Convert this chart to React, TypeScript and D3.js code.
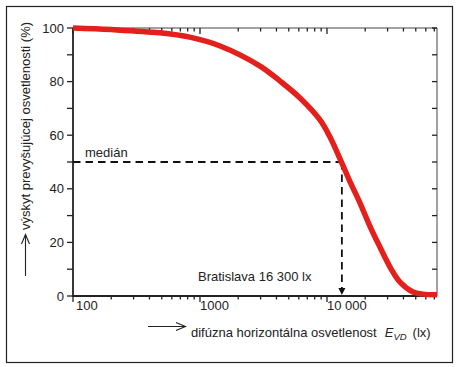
import React from "react";
import * as d3 from "d3";

const luxValues = [100, 200, 480, 830, 1440, 2970, 4270, 6130, 8810, 10560, 13100, 15200, 18200, 21800, 26100, 31300, 37600, 47600, 57000, 73500];
const occurrence = [100, 99.4, 98.2, 96.6, 93.3, 85.8, 80.2, 73.9, 65.7, 59.3, 49.6, 42.6, 34.7, 26.0, 18.3, 10.9, 5.2, 1.5, 0.7, 0.5];
const yTickValues = [0, 20, 40, 60, 80, 100];
const yMinorTicks = [0, 10, 20, 30, 40, 50, 60, 70, 80, 90, 100];
const xMajorTicks = [100, 1000, 10000];
const xMajorLabels = ["100", "1000", "10 000"];
const medianPct = 50;
const medianLux = 13100;
const medianLabel = "medián";
const cityLabel = "Bratislava 16 300 lx";
const yTitle = "výskyt prevyšujúcej osvetlenosti  (%)";
const xTitle = "difúzna horizontálna osvetlenost";

const FONT = "'Liberation Sans', Arial, Helvetica, sans-serif";

export default function App() {
  const W = 462, H = 367;
  const L = 73, R = 437, T = 28, B = 296;
  const x = d3.scaleLog().domain([100, 73500]).range([L, R]);
  const y = d3.scaleLinear().domain([0, 100]).range([B, T]);

  const minorX: number[] = [];
  for (let d = 100; d <= 10000; d *= 10) {
    for (let k = 1; k <= 9; k++) {
      const v = d * k;
      if (v <= 73500) minorX.push(v);
    }
  }

  const line = d3
    .line<number>()
    .x((_, i) => x(luxValues[i]))
    .y((d) => y(d))
    .curve(d3.curveCatmullRom.alpha(0.5));

  const mx = x(medianLux);
  const my = y(medianPct);

  return (
    <svg width={W} height={H} style={{ display: "block", position: "absolute", left: 0, top: 0 }} fontFamily={FONT}>
      <rect x={0} y={0} width={W} height={H} fill="#fff" />
      <rect x={6.5} y={6.5} width={446} height={356} fill="none" stroke="#222" strokeWidth={1.2} />

      {/* top and right frame */}
      <line x1={L} x2={R} y1={T} y2={T} stroke="#444" strokeWidth={1} />
      <line x1={R} x2={R} y1={T} y2={B} stroke="#444" strokeWidth={1} />

      {/* x ticks */}
      {minorX.map((v, i) => {
        const major = xMajorTicks.includes(v);
        const px = x(v);
        return (
          <g key={"xt" + i}>
            <line x1={px} x2={px} y1={B} y2={B + (major ? 6 : 3.5)} stroke="#222" strokeWidth={1.3} />
            <line x1={px} x2={px} y1={T} y2={T + (major ? 6 : 3.5)} stroke="#222" strokeWidth={1.3} />
          </g>
        );
      })}
      {/* y ticks */}
      {yMinorTicks.map((v) => (
        <g key={"yt" + v}>
          <line x1={L - 6} x2={L} y1={y(v)} y2={y(v)} stroke="#222" strokeWidth={1.3} />
          <line x1={R - 5} x2={R} y1={y(v)} y2={y(v)} stroke="#222" strokeWidth={1.3} />
        </g>
      ))}

      {/* axes */}
      <line x1={L} x2={L} y1={T} y2={B + 1} stroke="#222" strokeWidth={1.8} />
      <line x1={L - 1} x2={R} y1={B} y2={B} stroke="#222" strokeWidth={1.8} />

      {/* y tick labels */}
      {yTickValues.map((v) => (
        <text key={"yl" + v} x={64} y={y(v) + 4.5} textAnchor="end" fontSize={13} fill="#222">
          {v}
        </text>
      ))}
      {/* x tick labels */}
      {xMajorTicks.map((v, i) => (
        <text key={"xl" + v} x={x(v) + (i === 0 ? 3 : 0)} y={310} textAnchor="start" fontSize={13} fill="#222">
          {xMajorLabels[i]}
        </text>
      ))}

      {/* median lines */}
      <line x1={L} x2={mx} y1={my} y2={my} stroke="#111" strokeWidth={1.8} strokeDasharray="7.5,5" />
      <line x1={mx} x2={mx} y1={my} y2={B - 6} stroke="#111" strokeWidth={1.8} strokeDasharray="7.5,5" />
      <path d={`M${mx - 3.5},${B - 8} L${mx + 3.5},${B - 8} L${mx},${B - 1} Z`} fill="#111" />
      <text x={85} y={157} fontSize={13} fill="#222">{medianLabel}</text>
      <text x={198} y={281} fontSize={13} fill="#222">{cityLabel}</text>

      {/* curve */}
      <path d={line(occurrence) || ""} fill="none" stroke="#e3201b" strokeWidth={5.5} strokeLinejoin="round" strokeLinecap="butt" />

      {/* y title */}
      <line x1={25.5} x2={25.5} y1={276} y2={235} stroke="#222" strokeWidth={1.1} />
      <path d="M21.5,244 L25.5,234.5 L29.5,244" fill="none" stroke="#222" strokeWidth={1.1} />
      <text transform="translate(29.5,230) rotate(-90)" fontSize={13} fill="#222">{yTitle}</text>

      {/* x title */}
      <line x1={148} x2={185} y1={326.5} y2={326.5} stroke="#222" strokeWidth={1.1} />
      <path d="M176,322.5 L185.5,326.5 L176,330.5" fill="none" stroke="#222" strokeWidth={1.1} />
      <text x={191} y={337} fontSize={13} fill="#222">
        {xTitle}
        <tspan dx={8} fontStyle="italic">E</tspan>
        <tspan fontStyle="italic" fontSize={9.5} dy={3}>VD</tspan>
        <tspan dy={-3} dx={6}>(lx)</tspan>
      </text>
    </svg>
  );
}
